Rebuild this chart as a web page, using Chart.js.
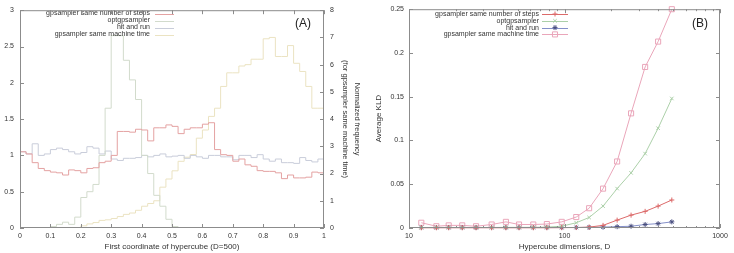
<!DOCTYPE html>
<html>
<head>
<meta charset="utf-8">
<script src="https://cdn.jsdelivr.net/npm/chart.js@4/dist/chart.umd.min.js"></script>
<style>
    body { margin: 0; background: #fff; }
    .panel { position: absolute; top: 0; width: 367px; height: 253px; }
</style>
</head>
<body>
<div class="panel" style="left:0"><canvas id="chartA"></canvas></div>
<div class="panel" style="left:367px"><canvas id="chartB"></canvas></div>
<script>
const seriesNames = ['gpsampler same number of steps', 'optgpsampler', 'hit and run', 'gpsampler same machine time'];

// panel A: histogram bins (left edge), last bin ends at 1
const binEdges = [0, 0.02, 0.04, 0.06, 0.08, 0.1, 0.12, 0.14, 0.16, 0.18,
    0.2, 0.22, 0.24, 0.26, 0.28, 0.3, 0.32, 0.34, 0.36, 0.38,
    0.4, 0.42, 0.44, 0.46, 0.48, 0.5, 0.52, 0.54, 0.56, 0.58,
    0.6, 0.62, 0.64, 0.66, 0.68, 0.7, 0.72, 0.74, 0.76, 0.78,
    0.8, 0.82, 0.84, 0.86, 0.88, 0.9, 0.92, 0.94, 0.96, 0.98];
const stepsHist = [1.05, 1.02, 0.90, 0.82, 0.79, 0.77, 0.76, 0.73, 0.80, 0.79,
    0.76, 0.82, 0.83, 0.90, 0.92, 1.00, 1.33, 1.33, 1.32, 1.36,
    1.35, 1.20, 1.38, 1.38, 1.42, 1.40, 1.30, 1.36, 1.38, 1.38,
    1.43, 1.45, 1.08, 1.01, 1.00, 0.92, 0.95, 0.87, 0.85, 0.79,
    0.78, 0.78, 0.76, 0.68, 0.73, 0.69, 0.69, 0.70, 0.77, 0.76];
const optHist = [0, 0, 0, 0, 0, 0.02, 0.05, 0.08, 0.05, 0.15,
    0.42, 0.50, 0.60, 1.00, 1.65, 2.65, 2.65, 2.31, 2.04, 1.77,
    1.00, 0.75, 0.45, 0.30, 0.12, 0.02, 0, 0, 0, 0,
    0, 0, 0, 0, 0, 0, 0, 0, 0, 0,
    0, 0, 0, 0, 0, 0, 0, 0, 0, 0];
const hitHist = [1.05, 1.02, 1.16, 1.00, 1.02, 1.08, 1.10, 1.08, 1.05, 1.02,
    1.04, 1.12, 1.10, 1.02, 1.06, 0.95, 0.93, 0.96, 0.96, 0.97,
    1.00, 0.98, 1.00, 1.02, 0.98, 0.99, 1.00, 0.96, 1.00, 0.98,
    0.96, 1.00, 1.00, 0.98, 0.98, 0.94, 1.00, 1.00, 0.97, 1.01,
    0.95, 0.92, 0.95, 0.90, 0.90, 0.89, 0.97, 0.93, 0.91, 0.95];
// right axis
const machineHist = [0, 0, 0, 0, 0, 0, 0, 0, 0, 0,
    0.08, 0.15, 0.20, 0.28, 0.30, 0.35, 0.42, 0.50, 0.55, 0.65,
    0.80, 0.90, 1.00, 1.50, 1.80, 2.10, 2.45, 2.60, 2.70, 3.30,
    3.60, 4.10, 4.40, 5.20, 5.70, 5.70, 5.95, 6.00, 6.20, 6.20,
    6.95, 7.00, 6.30, 6.30, 6.70, 6.05, 5.75, 5.20, 4.40, 4.40];

const xTicksA = [0, 0.1, 0.2, 0.3, 0.4, 0.5, 0.6, 0.7, 0.8, 0.9, 1];
const yTicksA = [0, 0.5, 1, 1.5, 2, 2.5, 3];
const y2TicksA = [0, 1, 2, 3, 4, 5, 6, 7, 8];

// panel B: average KLD vs dimension
const dims = [12, 15, 18, 22, 27, 34, 42, 51, 63, 77, 96, 119, 144, 177, 218, 268, 330, 400, 490];
const klSteps = [0.0003, 0.0003, 0.0003, 0.0003, 0.0003, 0.0003, 0.0003, 0.0003, 0.0003, 0.0003,
    0.0004, 0.0005, 0.001, 0.003, 0.009, 0.0147, 0.019, 0.025, 0.032];
const klOpt = [0.0006, 0.0006, 0.0006, 0.0006, 0.0006, 0.0006, 0.0007, 0.0007, 0.0008, 0.001,
    0.002, 0.006, 0.012, 0.025, 0.045, 0.063, 0.085, 0.114, 0.148];
const klHit = [0.0005, 0.0005, 0.0005, 0.0005, 0.0005, 0.0005, 0.0005, 0.0005, 0.0005, 0.0005,
    0.0005, 0.0006, 0.0007, 0.001, 0.0015, 0.002, 0.004, 0.005, 0.007];
const klMachine = [0.006, 0.002, 0.003, 0.003, 0.002, 0.004, 0.007, 0.004, 0.004, 0.0045,
    0.007, 0.0125, 0.0226, 0.045, 0.076, 0.131, 0.184, 0.213, 0.25];

const xMajorB = [10, 100, 1000];
const xMinorB = [20, 30, 40, 50, 60, 70, 80, 90, 200, 300, 400, 500, 600, 700, 800, 900];
const yTicksB = [0, 0.05, 0.1, 0.15, 0.2, 0.25];

Chart.defaults.font.family = '"Liberation Sans", Arial, sans-serif';
Chart.defaults.color = '#333';

const textColor = '#333';
const frameColor = '#8c8c8c';

// border box + inward ticks, gnuplot style
const framePlugin = {
    id: 'frame',
    afterDraw(chart, args, opts) {
        const { ctx, chartArea: a } = chart;
        ctx.save();
        ctx.strokeStyle = frameColor;
        ctx.lineWidth = 1;
        ctx.strokeRect(a.left + 0.5, a.top + 0.5, a.right - a.left - 1, a.bottom - a.top - 1);
        ctx.beginPath();
        for (const [id, sides] of Object.entries(opts.sides)) {
            const scale = chart.scales[id];
            const majors = opts.majors && opts.majors[id];
            scale.ticks.forEach(t => {
                const len = majors && !majors.includes(t.value) ? 2 : 4;
                const p = Math.round(scale.getPixelForValue(t.value)) + 0.5;
                sides.forEach(side => {
                    if (side === 'bottom') { ctx.moveTo(p, a.bottom); ctx.lineTo(p, a.bottom - len); }
                    if (side === 'top') { ctx.moveTo(p, a.top); ctx.lineTo(p, a.top + len); }
                    if (side === 'left') { ctx.moveTo(a.left, p); ctx.lineTo(a.left + len, p); }
                    if (side === 'right') { ctx.moveTo(a.right, p); ctx.lineTo(a.right - len, p); }
                });
            });
        }
        ctx.stroke();
        ctx.restore();
    }
};

// key with right aligned text and sample on the right
const keyPlugin = {
    id: 'key',
    afterDatasetsDraw(chart, args, o) {
        const ctx = chart.ctx;
        ctx.save();
        ctx.font = '7px "Liberation Sans", Arial, sans-serif';
        ctx.textAlign = 'right';
        ctx.textBaseline = 'middle';
        chart.data.datasets.forEach((ds, i) => {
            const y = o.y0 + i * o.dy;
            ctx.fillStyle = textColor;
            ctx.fillText(ds.label, o.textRight, y);
            ctx.strokeStyle = ds.borderColor;
            ctx.lineWidth = 1;
            ctx.beginPath();
            ctx.moveTo(o.x0, Math.round(y) + 0.5);
            ctx.lineTo(o.x1, Math.round(y) + 0.5);
            ctx.stroke();
            if (o.markers) {
                ctx.strokeStyle = ds.pointBorderColor || ds.borderColor;
                ctx.fillStyle = 'rgba(0,0,0,0)';
                Chart.helpers.drawPoint(ctx, { pointStyle: ds.pointStyle, radius: ds.pointRadius, borderWidth: 1, rotation: 0 }, (o.x0 + o.x1) / 2, y);
            }
        });
        ctx.restore();
    }
};

const tagPlugin = {
    id: 'tag',
    afterDraw(chart, args, o) {
        const ctx = chart.ctx;
        ctx.save();
        ctx.font = '12px "Liberation Sans", Arial, sans-serif';
        ctx.fillStyle = '#222';
        ctx.textAlign = 'center';
        ctx.textBaseline = 'middle';
        ctx.fillText(o.text, o.x, o.y);
        ctx.restore();
    }
};

function histPoints(vals) {
    const pts = binEdges.map((x, i) => ({ x: x, y: vals[i] }));
    pts.push({ x: 1, y: vals[vals.length - 1] });
    return pts;
}

function dimPoints(vals) {
    return dims.map((d, i) => ({ x: d, y: vals[i] }));
}

const tickFont = { size: 7 };
const titleFont = { size: 8 };

new Chart(document.getElementById('chartA'), {
    type: 'line',
    data: {
        datasets: [
            { label: seriesNames[0], data: histPoints(stepsHist), borderColor: '#e4a2a2', yAxisID: 'y' },
            { label: seriesNames[1], data: histPoints(optHist), borderColor: '#d2dbcc', yAxisID: 'y' },
            { label: seriesNames[2], data: histPoints(hitHist), borderColor: '#c9cdda', yAxisID: 'y' },
            { label: seriesNames[3], data: histPoints(machineHist), borderColor: '#ebe3c2', yAxisID: 'y2' }
        ].map(ds => Object.assign(ds, { stepped: true, borderWidth: 1, pointRadius: 0, fill: false }))
    },
    options: {
        responsive: true,
        maintainAspectRatio: false,
        animation: false,
        layout: { padding: { top: 6 } },
        plugins: {
            legend: { display: false },
            tooltip: { enabled: false },
            frame: { sides: { x: ['bottom', 'top'], y: ['left'], y2: ['right'] } },
            key: { textRight: 150, x0: 155, x1: 174, y0: 13.5, dy: 7, markers: false },
            tag: { text: '(A)', x: 303, y: 24 }
        },
        scales: {
            x: {
                type: 'linear', min: 0, max: 1,
                grid: { display: false, drawTicks: false }, border: { display: false },
                afterBuildTicks: s => { s.ticks = xTicksA.map(v => ({ value: v })); },
                afterFit: s => { s.height = 25; },
                ticks: { padding: 4, font: tickFont, color: textColor, maxRotation: 0, autoSkip: false, callback: v => String(v) },
                title: { display: true, text: 'First coordinate of hypercube (D=500)', font: titleFont, color: textColor, padding: { top: 0, bottom: 1 } }
            },
            y: {
                position: 'left', min: 0, max: 3,
                grid: { display: false, drawTicks: false }, border: { display: false },
                afterBuildTicks: s => { s.ticks = yTicksA.map(v => ({ value: v })); },
                afterFit: s => { s.width = 20; },
                ticks: { padding: 6, font: tickFont, color: textColor, callback: v => String(v) }
            },
            y2: {
                position: 'right', min: 0, max: 8,
                grid: { display: false, drawTicks: false }, border: { display: false },
                afterBuildTicks: s => { s.ticks = y2TicksA.map(v => ({ value: v })); },
                afterFit: s => { s.width = 43; },
                ticks: { padding: 6, font: tickFont, color: textColor, callback: v => String(v) },
                title: { display: true, text: ['Normalized frequency', '(for gpsampler same machine time)'], font: { size: 7.5, lineHeight: 1.6 }, color: textColor, padding: { top: 4, bottom: 0 } }
            }
        }
    },
    plugins: [framePlugin, keyPlugin, tagPlugin]
});

new Chart(document.getElementById('chartB'), {
    type: 'line',
    data: {
        datasets: [
            { label: seriesNames[0], data: dimPoints(klSteps), borderColor: '#dc6a6a', pointStyle: 'cross', pointRadius: 2.5 },
            { label: seriesNames[1], data: dimPoints(klOpt), borderColor: '#acd0a9', pointStyle: 'crossRot', pointRadius: 2.5 },
            { label: seriesNames[2], data: dimPoints(klHit), borderColor: '#8590ca', pointBorderColor: '#4a4f80', pointStyle: 'star', pointRadius: 2.5 },
            { label: seriesNames[3], data: dimPoints(klMachine), borderColor: '#eaa6ba', pointStyle: 'rect', pointRadius: 3.6 }
        ].map(ds => Object.assign(ds, { borderWidth: 1, pointBorderWidth: 1, pointBackgroundColor: 'rgba(0,0,0,0)', fill: false, tension: 0, clip: 6 }))
    },
    options: {
        responsive: true,
        maintainAspectRatio: false,
        animation: false,
        layout: { padding: { top: 7, right: 14 } },
        plugins: {
            legend: { display: false },
            tooltip: { enabled: false },
            frame: { sides: { x: ['bottom', 'top'], y: ['left', 'right'] }, majors: { x: xMajorB } },
            key: { textRight: 172, x0: 175, x1: 201, y0: 14, dy: 6.8, markers: true },
            tag: { text: '(B)', x: 333, y: 24 }
        },
        scales: {
            x: {
                type: 'logarithmic', min: 10, max: 1000,
                grid: { display: false, drawTicks: false }, border: { display: false },
                afterBuildTicks: s => { s.ticks = xMajorB.concat(xMinorB).sort((a, b) => a - b).map(v => ({ value: v })); },
                afterFit: s => { s.height = 25; },
                ticks: { padding: 4, font: tickFont, color: textColor, maxRotation: 0, autoSkip: false, callback: v => xMajorB.includes(v) ? String(v) : '' },
                title: { display: true, text: 'Hypercube dimensions, D', font: titleFont, color: textColor, padding: { top: 0, bottom: 1 } }
            },
            y: {
                position: 'left', min: 0, max: 0.25,
                grid: { display: false, drawTicks: false }, border: { display: false },
                afterBuildTicks: s => { s.ticks = yTicksB.map(v => ({ value: v })); },
                afterFit: s => { s.width = 42; },
                ticks: { padding: 5, font: tickFont, color: textColor, callback: v => String(v) },
                title: { display: true, text: 'Average KLD', font: titleFont, color: textColor, padding: { top: 7, bottom: 0 } }
            }
        }
    },
    plugins: [framePlugin, keyPlugin, tagPlugin]
});
</script>
</body>
</html>
